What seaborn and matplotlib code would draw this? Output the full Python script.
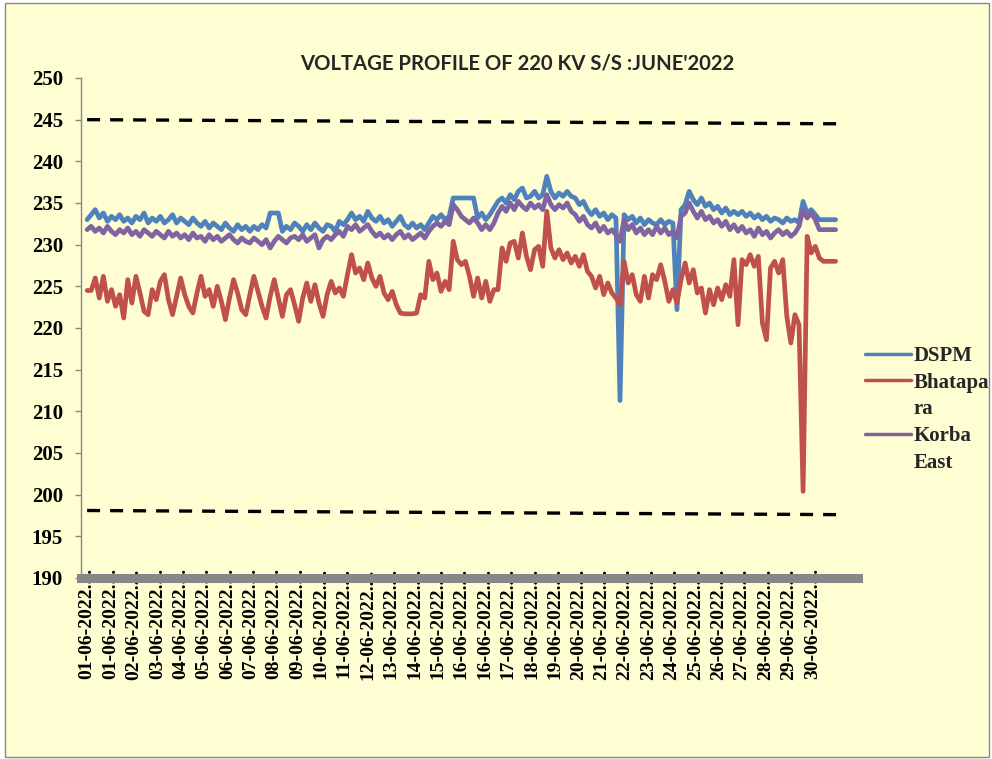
import numpy as np
import pandas as pd
import matplotlib
matplotlib.use("Agg")
import matplotlib.pyplot as plt
from matplotlib.lines import Line2D
from matplotlib.patches import Rectangle
import seaborn as sns

# ------------- DATA (kV, one reading every 4 h) -------------
STEP_H = 4

dspm = [
    233.0, 233.6, 234.2, 233.2, 233.8, 232.8, 233.4, 233.0, 233.6, 232.8,
    233.2, 232.6, 233.4, 233.0, 233.8, 232.6, 233.2, 232.8, 233.4, 232.6,
    233.0, 233.6, 232.6, 233.2, 232.8, 232.4, 233.2, 232.6, 232.2, 232.8,
    232.0, 232.6, 232.2, 231.8, 232.6, 232.0, 231.6, 232.4, 231.8, 232.2,
    231.6, 232.2, 231.8, 232.4, 232.0, 233.8, 233.8, 233.8, 231.6, 232.2,
    231.8, 232.6, 232.2, 231.6, 232.4, 231.8, 232.6, 232.0, 231.6, 232.4,
    232.2, 231.6, 232.8, 232.4, 233.0, 233.8, 233.0, 233.4, 232.8, 234.0,
    233.2, 232.8, 233.4, 232.6, 233.0, 232.2, 232.8, 233.4, 232.4, 232.0,
    232.6, 232.0, 232.4, 231.8, 232.6, 233.4, 233.0, 233.6, 233.0, 233.4,
    235.6, 235.6, 235.6, 235.6, 235.6, 235.6, 233.2, 233.8, 233.0, 233.6,
    234.4, 235.2, 235.6, 235.0, 236.0, 235.4, 236.4, 236.8, 235.6, 235.8,
    236.4, 235.6, 236.0, 238.2, 236.4, 235.6, 236.2, 235.8, 236.4, 235.8,
    235.6, 234.8, 235.2, 234.2, 233.6, 234.2, 233.4, 233.8, 233.0, 233.6,
    233.2, 211.3, 233.6, 233.0, 233.4, 232.6, 233.2, 232.4, 233.0, 232.6,
    232.4, 233.0, 232.4, 232.8, 232.6, 222.2, 234.2, 234.8, 236.4, 235.4,
    234.8, 235.6, 234.6, 235.0, 234.2, 234.6, 233.8, 234.4, 233.6, 234.0,
    233.6, 234.0, 233.4, 233.8, 233.2, 233.6, 233.0, 233.4, 232.8, 233.2,
    233.0, 232.6, 233.2, 232.8, 233.0, 232.6, 235.2, 233.8, 234.2, 233.6,
    233.0, 233.0, 233.0, 233.0, 233.0,
]

bhatapara = [
    224.5, 224.5, 226.0, 223.6, 226.2, 223.2, 224.6, 222.6, 224.0, 221.2,
    225.8, 223.0, 226.2, 224.2, 222.0, 221.6, 224.6, 223.4, 225.6, 226.4,
    223.4, 221.6, 223.8, 226.0, 224.0, 222.6, 221.8, 224.2, 226.2, 223.8,
    224.6, 222.6, 225.0, 223.2, 221.0, 223.6, 225.8, 224.2, 222.2, 221.6,
    224.0, 226.2, 224.4, 222.6, 221.2, 223.8, 225.8, 223.6, 221.4, 224.0,
    224.6, 222.8, 220.8, 223.6, 225.4, 223.2, 225.2, 223.0, 221.4, 224.0,
    225.6, 224.2, 224.8, 223.8, 226.4, 228.8, 226.6, 227.2, 225.8, 227.8,
    226.0, 225.0, 226.2, 224.2, 223.4, 224.4, 222.8, 221.8, 221.7, 221.7,
    221.7, 221.8, 224.0, 223.6, 228.0, 225.8, 226.6, 224.4, 225.6, 224.6,
    230.4, 228.2, 227.6, 228.0, 226.2, 223.8, 226.0, 223.6, 225.6, 223.2,
    224.6, 224.6, 229.6, 228.0, 230.2, 230.4, 228.4, 231.4, 228.6, 227.0,
    229.4, 229.8, 227.4, 234.0, 229.6, 228.4, 229.4, 228.2, 229.0, 227.8,
    228.6, 227.4, 228.8, 226.8, 226.2, 224.8, 226.2, 224.0, 225.4, 224.2,
    223.6, 222.8, 228.0, 225.4, 226.4, 224.0, 223.2, 226.2, 223.6, 226.4,
    225.8, 227.6, 225.6, 223.2, 224.6, 223.0, 225.8, 227.8, 225.4, 227.0,
    224.2, 224.8, 221.8, 224.6, 222.8, 224.8, 223.4, 225.2, 223.8, 228.2,
    220.4, 228.2, 227.6, 228.8, 227.4, 228.6, 220.6, 218.6, 227.2, 228.0,
    226.6, 228.2, 221.4, 218.2, 221.6, 220.4, 200.4, 231.0, 229.0, 229.8,
    228.4, 228.0, 228.0, 228.0, 228.0,
]

korba_east = [
    231.8, 232.2, 231.6, 232.0, 231.4, 232.2, 231.6, 231.2, 231.8, 231.4,
    232.0, 231.2, 231.6, 231.0, 231.8, 231.4, 231.0, 231.6, 231.2, 230.8,
    231.6, 231.0, 231.4, 230.8, 231.2, 230.6, 231.4, 230.8, 231.0, 230.4,
    231.2, 230.6, 231.0, 230.4, 230.8, 231.2, 230.6, 230.2, 230.8, 230.4,
    230.2, 230.8, 230.4, 230.0, 230.6, 229.6, 230.4, 231.0, 230.6, 230.2,
    230.8, 231.0, 230.6, 231.2, 230.4, 230.8, 231.2, 229.6, 230.6, 231.0,
    230.6, 231.2, 231.6, 231.0, 232.2, 231.8, 232.4, 231.6, 232.0, 232.4,
    231.6, 231.0, 231.4, 230.8, 231.2, 230.6, 231.2, 231.6, 230.8, 231.2,
    230.6, 231.0, 231.4, 230.8, 231.6, 232.2, 232.6, 232.2, 232.8, 232.4,
    234.8, 234.2, 233.4, 233.0, 232.6, 233.2, 232.6, 231.8, 232.4, 231.8,
    232.6, 233.8, 234.6, 234.0, 235.0, 234.2, 235.2, 234.6, 234.2, 235.0,
    234.4, 234.8, 234.2, 236.0, 234.8, 234.2, 234.8, 234.4, 235.0, 234.0,
    233.6, 232.8, 233.4, 232.4, 232.0, 232.6, 231.6, 232.2, 231.4, 231.8,
    231.2, 230.4, 233.0, 231.8, 232.4, 231.4, 232.0, 231.2, 231.8, 231.2,
    232.2, 231.4, 232.0, 231.2, 231.6, 230.8, 233.4, 233.8, 235.0, 234.0,
    233.2, 234.0, 233.0, 233.4, 232.6, 233.0, 232.2, 232.8, 231.8, 232.4,
    231.6, 232.2, 231.4, 231.8, 231.0, 232.0, 231.2, 231.6, 230.8, 231.4,
    231.8, 231.2, 231.6, 231.0, 231.4, 232.2, 234.2, 233.2, 233.8, 233.0,
    231.8, 231.8, 231.8, 231.8, 231.8,
]

# upper / lower voltage limit lines (start, end)
limit_hours = [0, 743]
upper_limit = [245.0, 244.5]
lower_limit = [198.1, 197.6]

# category labels, one every 23 readings-hours
TICK_EVERY_H = 23
tick_dates = [
    "01-06-2022", "01-06-2022", "02-06-2022", "03-06-2022", "04-06-2022",
    "05-06-2022", "06-06-2022", "07-06-2022", "08-06-2022", "09-06-2022",
    "10-06-2022", "11-06-2022", "12-06-2022", "13-06-2022", "14-06-2022",
    "15-06-2022", "16-06-2022", "16-06-2022", "17-06-2022", "18-06-2022",
    "19-06-2022", "20-06-2022", "21-06-2022", "22-06-2022", "23-06-2022",
    "24-06-2022", "25-06-2022", "26-06-2022", "27-06-2022", "28-06-2022",
    "29-06-2022", "30-06-2022",
]

stations = ["DSPM", "Bhatapara", "Korba East"]
legend_labels = ["DSPM", "Bhatapa\nra", "Korba\nEast"]
colors = ["#4F81BD", "#C0504D", "#8064A2"]

TITLE = "VOLTAGE PROFILE OF 220 KV S/S :JUNE'2022"
BG = "#FFFDD2"
GREY = "#878787"

# ------------- build long table -------------
assert len(dspm) == len(bhatapara) == len(korba_east)
hours = np.arange(len(dspm)) * STEP_H
df = pd.DataFrame({"hour": hours, "DSPM": dspm,
                   "Bhatapara": bhatapara, "Korba East": korba_east})
df = df.melt(id_vars="hour", var_name="station", value_name="kv")

# ------------- plot -------------
sns.set_theme(style="white")
plt.rcParams["font.family"] = ["Liberation Serif", "DejaVu Serif"]
plt.rcParams["font.weight"] = "bold"

W, H = 992, 759
fig = plt.figure(figsize=(W / 100, H / 100), dpi=100, facecolor="white")
fig.patches.append(Rectangle((5 / W, 2 / H), 984 / W, 754 / H,
                             transform=fig.transFigure, facecolor=BG,
                             edgecolor=GREY, lw=1, zorder=-10))

ax = fig.add_axes([81 / W, 181 / H, 777 / W, 500 / H])
ax.set_facecolor("none")

sns.lineplot(data=df, x="hour", y="kv", hue="station", hue_order=stations,
             palette=colors, lw=3.4, legend=False, sort=False, estimator=None, ax=ax)

for lim in (upper_limit, lower_limit):
    ax.plot(limit_hours, lim, color="black", lw=2.4, dashes=(3.9, 3.0))

ax.set_ylim(190, 250)
ax.set_yticks(range(190, 251, 5))
ax.set_xlim(-6, 758)
ax.set_xticks(np.arange(len(tick_dates)) * TICK_EVERY_H)
ax.set_xticklabels([d + "...." for d in tick_dates], rotation=90,
                   fontsize=14, fontweight="bold")
ax.set_yticklabels([str(v) for v in range(190, 251, 5)],
                   fontsize=15, fontweight="bold")
ax.set_xlabel("")
ax.set_ylabel("")

ax.tick_params(axis="x", length=0, pad=-7, colors="black")
ax.tick_params(axis="y", left=True, length=4, width=1, color=GREY, pad=9,
               labelcolor="black")

for s in ("top", "right"):
    ax.spines[s].set_visible(False)
ax.spines["left"].set_color(GREY)
ax.spines["left"].set_linewidth(1)
ax.spines["bottom"].set_color(GREY)
ax.spines["bottom"].set_linewidth(6.5)
ax.spines["bottom"].set_zorder(1)

# legend, second line of long names has no marker
handles, labels = [], []
for lab, c in zip(legend_labels, colors):
    parts = lab.split("\n")
    handles.append(Line2D([], [], color=c, lw=2.5))
    labels.append(parts[0])
    for extra in parts[1:]:
        handles.append(Line2D([], [], color="none"))
        labels.append(extra)
fig.legend(handles, labels, loc="upper left",
           bbox_to_anchor=(865 / W, 1 - 346 / H), frameon=False,
           prop={"family": "Liberation Serif", "weight": "bold", "size": 15},
           handlelength=2.2, handletextpad=0.12, labelspacing=0.32,
           borderpad=0, borderaxespad=0)

fig.text(517 / W, 1 - 63.5 / H, TITLE, ha="center", va="center",
         fontsize=14.6, fontweight="bold", family="Lato")

fig.savefig("out.png", dpi=100)
